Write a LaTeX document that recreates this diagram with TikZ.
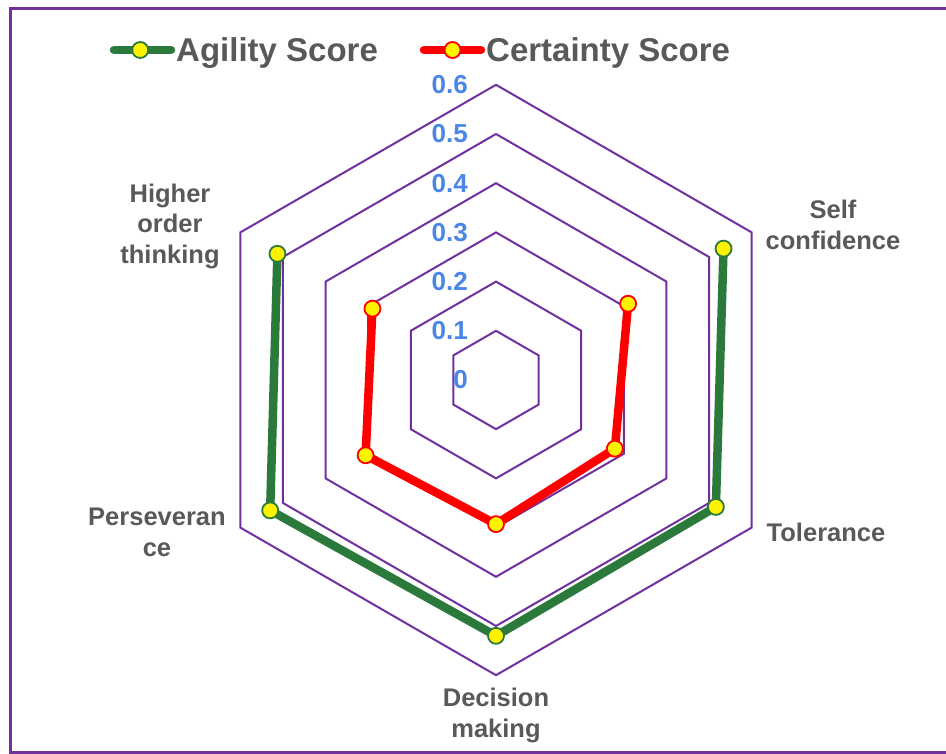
\documentclass[tikz,border=0pt]{standalone}
\usepackage{fontspec}
\setmainfont{Liberation Sans}
\usepackage{xcolor}
\usetikzlibrary{calc}

\definecolor{gridpurple}{HTML}{7030A0}
\definecolor{agilitygreen}{HTML}{2B7A3C}
\definecolor{textgray}{HTML}{595959}
\definecolor{tickblue}{HTML}{4A86E8}

\tikzset{
    ring/.style={gridpurple, line width=2pt},
    scoreline/.style={line width=8.5pt, line join=round, line cap=round},
    scoredot/.style={circle, fill=yellow, line width=1.8pt, inner sep=0pt, minimum size=16pt},
    category/.style={textgray, font=\bfseries\fontsize{25.5}{30.5}\selectfont, align=center},
    ticklabel/.style={tickblue, font=\bfseries\fontsize{26}{26}\selectfont, anchor=east, inner sep=0pt},
    keytext/.style={textgray, font=\bfseries\fontsize{33}{33}\selectfont, anchor=west, inner sep=1pt}
}

\begin{document}
\begin{tikzpicture}[x=1pt, y=1pt]
    \useasboundingbox (0,0) rectangle (946,754);
    \fill[white] (0,0) rectangle (946,754);
    \draw[gridpurple, line width=2.6pt] (946,745.5) -- (10.5,745.5) -- (10.5,1.5) -- (946,1.5);

    \coordinate (agA) at (114,704);
    \coordinate (agB) at (171,704);
    \draw[scoreline, agilitygreen] (agA) -- (agB);
    \node[scoredot, draw=agilitygreen] (agkeydot) at ($(agA)!0.46!(agB)$) {};
    \node[keytext] (agkey) at (175,701) {Agility Score};

    \coordinate (ceA) at (424,704);
    \coordinate (ceB) at (481,704);
    \draw[scoreline, red] (ceA) -- (ceB);
    \node[scoredot, draw=red] (cekeydot) at ($(ceA)!0.5!(ceB)$) {};
    \node[keytext] (cekey) at (485,701) {Certainty Score};

    \begin{scope}[shift={(496,374)}]
        \foreach \k in {1,...,6}
            \draw[ring] (90:\k*49.2) -- (30:\k*49.2) -- (-30:\k*49.2) -- (-90:\k*49.2)
                -- (-150:\k*49.2) -- (150:\k*49.2) -- cycle;

        \foreach \v [count=\i] in {0.534,0.516,0.520,0.530,0.513}
            \coordinate (ag\i) at ({90-60*\i}:{\v*492});
        \foreach \v [count=\i] in {0.310,0.279,0.293,0.306,0.290}
            \coordinate (ce\i) at ({90-60*\i}:{\v*492});

        \draw[scoreline, agilitygreen] (ag1) -- (ag2) -- (ag3) -- (ag4) -- (ag5);
        \draw[scoreline, red] (ce1) -- (ce2) -- (ce3) -- (ce4) -- (ce5);
        \foreach \i in {1,...,5} {
            \node[scoredot, draw=agilitygreen] (agdot\i) at (ag\i) {};
            \node[scoredot, draw=red] (cedot\i) at (ce\i) {};
        }

        \foreach \k in {0,...,6}
            \node[ticklabel] (t\k) at (-28,\k*49.2) {\ifnum\k=0 0\else 0.\k\fi};

        \node[category] (higher) at (-326,154) {Higher\\order\\thinking};
        \node[category] (self) at (337,155) {Self\\confidence};
        \node[category] (tolerance) at (330,-152) {Tolerance};
        \node[category] (decision) at (0,-335.5) {Decision\\making};
        \node[category] (persev) at (-339,-152.5) {Perseveran\\ce};
    \end{scope}
\end{tikzpicture}
\end{document}
